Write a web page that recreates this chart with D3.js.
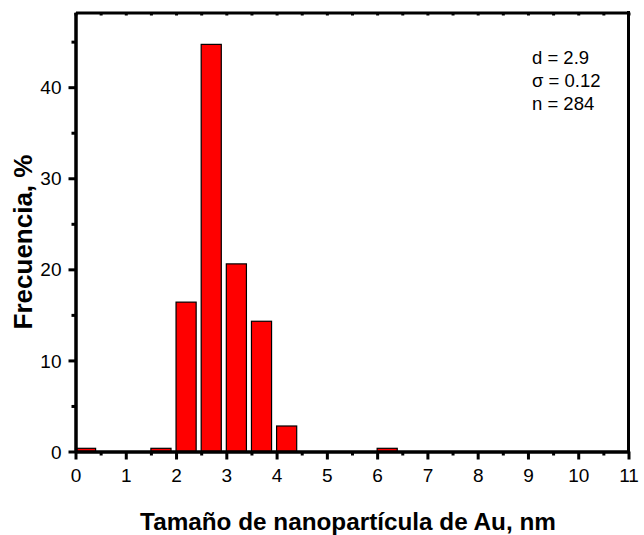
<!DOCTYPE html>
<html>
<head>
<meta charset="utf-8">
<script src="https://cdn.jsdelivr.net/npm/d3@7"></script>
<style>
  html, body { margin: 0; padding: 0; background: #fff; }
  svg { display: block; }
  text { font-family: Arial, "Liberation Sans", sans-serif; fill: #000; }
</style>
</head>
<body>
<svg id="chart" width="644" height="535"></svg>
<script>
// Particle-size histogram: bin start (nm) and relative frequency (%)
const binStart = [0.0, 1.5, 2.0, 2.5, 3.0, 3.5, 4.0, 6.0];
const frequency = [0.35, 0.35, 16.4, 44.7, 20.6, 14.3, 2.8, 0.35];
const barWidth = 0.4;

const xTicks = [0, 1, 2, 3, 4, 5, 6, 7, 8, 9, 10, 11];
const yTicks = [0, 10, 20, 30, 40];
const statLines = ["d = 2.9", "\u03c3 = 0.12", "n = 284"];

const xTitle = "Tamaño de nanopartícula de Au, nm";
const yTitle = "Frecuencia, %";

const svg = d3.select("#chart");
const plotL = 75.5, plotR = 628.5, plotT = 12.5, plotB = 451.5;

const x = d3.scaleLinear().domain([0, 11]).range([plotL, plotR]);
const y = d3.scaleLinear().domain([0, 48.2]).range([plotB, plotT]);

// bars
svg.append("g").selectAll("rect")
  .data(binStart.map((s, i) => ({ s, v: frequency[i] })))
  .join("rect")
  .attr("x", d => x(d.s))
  .attr("width", d => x(d.s + barWidth) - x(d.s))
  .attr("y", d => y(d.v))
  .attr("height", d => y(0) - y(d.v))
  .attr("fill", "#ff0000")
  .attr("stroke", "#000")
  .attr("stroke-width", 1.2);

const axisW = 3;
const tickFont = 19;

// bottom axis: major ticks with labels, minor ticks between
const xMinor = d3.range(0.5, 11, 1);
const gx = svg.append("g").attr("transform", `translate(0,${plotB})`);
gx.call(d3.axisBottom(x).tickValues(xTicks).tickSize(8).tickSizeOuter(0)
  .tickPadding(9).tickFormat(d3.format("d")));
gx.append("g").call(d3.axisBottom(x).tickValues(xMinor).tickSize(4).tickSizeOuter(0).tickFormat(""));

// left axis
const yMinor = d3.range(5, 48, 10);
const gy = svg.append("g").attr("transform", `translate(${plotL},0)`);
gy.call(d3.axisLeft(y).tickValues(yTicks).tickSize(7).tickSizeOuter(0)
  .tickPadding(7).tickFormat(d3.format("d")));
gy.append("g").call(d3.axisLeft(y).tickValues(yMinor).tickSize(4).tickSizeOuter(0).tickFormat(""));

// top axis with small inward ticks, right axis plain
const gt = svg.append("g").attr("transform", `translate(0,${plotT})`);
gt.call(d3.axisTop(x).tickValues(d3.range(0, 11.01, 0.5)).tickSize(-3).tickSizeOuter(0).tickFormat(""));
svg.append("line").attr("class", "frame")
  .attr("x1", plotR).attr("x2", plotR)
  .attr("y1", plotT - 1.5).attr("y2", plotB + 1.5);

svg.selectAll(".domain, .tick line, line.frame")
  .style("stroke", "#000")
  .style("stroke-width", axisW + "px");
svg.selectAll(".tick text")
  .style("fill", "#000")
  .style("font-size", tickFont + "px")
  .style("font-family", "Arial, 'Liberation Sans', sans-serif");
gy.selectAll(".tick text").attr("dy", "0.35em");

// statistics box
svg.append("g").selectAll("text")
  .data(statLines)
  .join("text")
  .attr("x", 532)
  .attr("y", (d, i) => 64 + i * 23)
  .style("font-size", "18.5px")
  .text(d => d);

// axis titles
svg.append("text")
  .attr("x", 348).attr("y", 530)
  .attr("text-anchor", "middle")
  .style("font-size", "24.3px").style("font-weight", "bold")
  .text(xTitle);

svg.append("text")
  .attr("transform", "translate(32,242) rotate(-90)")
  .attr("text-anchor", "middle")
  .style("font-size", "26px").style("font-weight", "bold")
  .text(yTitle);
</script>
</body>
</html>
